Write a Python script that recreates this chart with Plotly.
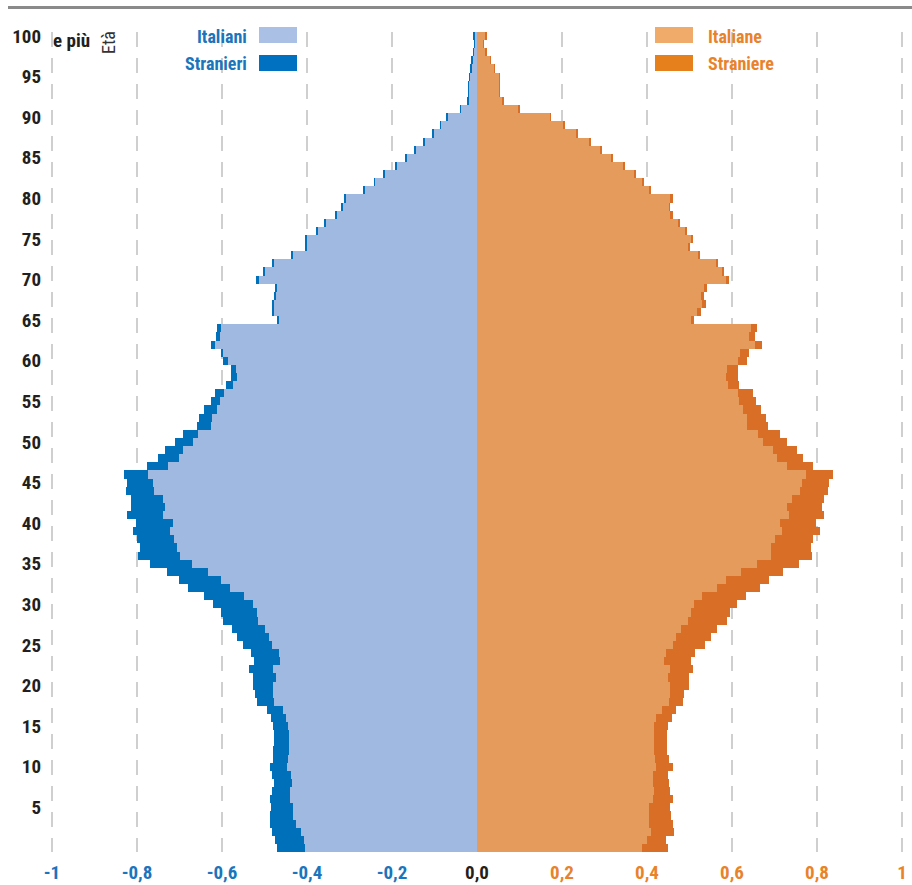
import plotly.graph_objects as go

# ---------------- data (percent of total population) ----------------
ages = list(range(0, 101))

italiani = [0.405, 0.407, 0.413, 0.427, 0.432, 0.432, 0.440, 0.440, 0.435, 0.438,
            0.446, 0.444, 0.442, 0.442, 0.443, 0.444, 0.449, 0.457, 0.478, 0.479,
            0.481, 0.473, 0.481, 0.464, 0.465, 0.483, 0.489, 0.499, 0.515, 0.517,
            0.528, 0.548, 0.581, 0.603, 0.634, 0.670, 0.700, 0.707, 0.713, 0.722,
            0.715, 0.738, 0.733, 0.740, 0.760, 0.763, 0.773, 0.728, 0.702, 0.691,
            0.669, 0.657, 0.627, 0.624, 0.612, 0.605, 0.595, 0.573, 0.564, 0.567,
            0.587, 0.597, 0.616, 0.605, 0.602, 0.467, 0.478, 0.478, 0.474, 0.471,
            0.514, 0.499, 0.478, 0.435, 0.402, 0.402, 0.376, 0.356, 0.331, 0.317,
            0.309, 0.265, 0.240, 0.217, 0.190, 0.167, 0.145, 0.124, 0.102, 0.085,
            0.069, 0.038, 0.021, 0.019, 0.019, 0.017, 0.014, 0.011, 0.008, 0.006,
            0.007]

stranieri = [0.065, 0.069, 0.070, 0.060, 0.055, 0.053, 0.047, 0.042, 0.043, 0.045,
             0.041, 0.035, 0.037, 0.036, 0.034, 0.035, 0.036, 0.038, 0.040, 0.043,
             0.045, 0.053, 0.055, 0.060, 0.067, 0.067, 0.075, 0.078, 0.082, 0.086,
             0.094, 0.094, 0.100, 0.099, 0.096, 0.099, 0.097, 0.086, 0.088, 0.087,
             0.088, 0.085, 0.082, 0.075, 0.066, 0.060, 0.058, 0.049, 0.049, 0.042,
             0.042, 0.035, 0.033, 0.029, 0.030, 0.022, 0.021, 0.018, 0.015, 0.011,
             0.011, 0.005, 0.011, 0.009, 0.009, 0.004, 0.005, 0.004, 0.003, 0.004,
             0.005, 0.004, 0.003, 0.003, 0.003, 0.003, 0.003, 0.003, 0.003, 0.003,
             0.003, 0.002, 0.002, 0.002, 0.002, 0.002, 0.002, 0.002, 0.002, 0.002,
             0.002, 0.002, 0.002, 0.001, 0.001, 0.001, 0.001, 0.001, 0.001, 0.001,
             0.002]

italiane = [0.389, 0.400, 0.410, 0.405, 0.405, 0.405, 0.415, 0.416, 0.415, 0.413,
            0.421, 0.419, 0.417, 0.417, 0.416, 0.416, 0.421, 0.435, 0.452, 0.453,
            0.454, 0.450, 0.454, 0.440, 0.445, 0.460, 0.468, 0.480, 0.496, 0.503,
            0.511, 0.530, 0.564, 0.586, 0.620, 0.658, 0.692, 0.692, 0.701, 0.717,
            0.713, 0.734, 0.730, 0.741, 0.760, 0.764, 0.774, 0.730, 0.707, 0.696,
            0.674, 0.662, 0.635, 0.635, 0.627, 0.617, 0.615, 0.590, 0.586, 0.589,
            0.615, 0.619, 0.654, 0.639, 0.644, 0.503, 0.517, 0.529, 0.526, 0.533,
            0.586, 0.578, 0.564, 0.522, 0.497, 0.505, 0.490, 0.473, 0.456, 0.452,
            0.456, 0.406, 0.389, 0.371, 0.344, 0.317, 0.290, 0.264, 0.234, 0.203,
            0.172, 0.098, 0.061, 0.053, 0.053, 0.053, 0.041, 0.031, 0.021, 0.015,
            0.020]

straniere = [0.061, 0.044, 0.054, 0.055, 0.051, 0.049, 0.045, 0.038, 0.037, 0.037,
             0.039, 0.033, 0.031, 0.031, 0.032, 0.033, 0.037, 0.033, 0.032, 0.034,
             0.044, 0.048, 0.055, 0.064, 0.068, 0.077, 0.083, 0.085, 0.092, 0.092,
             0.100, 0.103, 0.102, 0.102, 0.101, 0.100, 0.097, 0.095, 0.090, 0.089,
             0.085, 0.082, 0.081, 0.075, 0.065, 0.065, 0.063, 0.061, 0.059, 0.056,
             0.056, 0.051, 0.050, 0.044, 0.041, 0.039, 0.034, 0.027, 0.027, 0.026,
             0.021, 0.022, 0.016, 0.016, 0.014, 0.008, 0.009, 0.009, 0.007, 0.007,
             0.008, 0.004, 0.004, 0.003, 0.002, 0.004, 0.003, 0.003, 0.004, 0.002,
             0.004, 0.003, 0.002, 0.002, 0.002, 0.002, 0.002, 0.002, 0.002, 0.002,
             0.002, 0.001, 0.001, 0.001, 0.001, 0.001, 0.001, 0.001, 0.002, 0.001,
             0.003]

x_tick_vals = [-1, -0.8, -0.6, -0.4, -0.2, 0, 0.2, 0.4, 0.6, 0.8, 1]
x_tick_labels = ["-1", "-0,8", "-0,6", "-0,4", "-0,2", "0,0", "0,2", "0,4", "0,6", "0,8", "1"]
y_tick_vals = [5, 10, 15, 20, 25, 30, 35, 40, 45, 50, 55, 60, 65, 70, 75, 80, 85, 90, 95, 100]
y_tick_labels = ["5", "10", "15", "20", "25", "30", "35", "40", "45", "50", "55", "60",
                 "65", "70", "75", "80", "85", "90", "95", "100"]

# ---------------- style ----------------
W, H = 912, 885
ML, MR, MT, MB = 50, 8, 32, 33
PW, PH = W - ML - MR, H - MT - MB
PX_PER_UNIT = 425.0
XR = (PW / 2) / PX_PER_UNIT

FONT = ("Noto Sans Condensed, Roboto Condensed, Liberation Sans Narrow, "
        "DejaVu Sans Condensed, Roboto, sans-serif")
C_ITA_M = "#a0b9e0"
C_STR_M = "#0070bb"
C_ITA_F = "#e59b5c"
C_STR_F = "#d96f26"
C_TXT_M = "#1a75bc"
C_TXT_F = "#e8832a"
C_DARK = "#231f20"


def px(xp):
    return (xp - ML) / PW


def py(yp):
    return (H - MB - yp) / PH


fig = go.Figure()
common = dict(orientation="h", width=1, marker_line_width=0, hoverinfo="skip", showlegend=False)
fig.add_trace(go.Bar(y=ages, x=[-v for v in italiani], marker_color=C_ITA_M, name="Italiani", **common))
fig.add_trace(go.Bar(y=ages, x=[-v for v in stranieri], marker_color=C_STR_M, name="Stranieri", **common))
fig.add_trace(go.Bar(y=ages, x=italiane, marker_color=C_ITA_F, name="Italiane", **common))
fig.add_trace(go.Bar(y=ages, x=straniere, marker_color=C_STR_F, name="Straniere", **common))


def col(v):
    if v < 0:
        return C_TXT_M
    if v > 0:
        return C_TXT_F
    return C_DARK


x_ticktext = [f"<span style='color:{col(v)}'>{t}</span>" for v, t in zip(x_tick_vals, x_tick_labels)]

shapes = [
    # top rule
    dict(type="line", xref="paper", yref="paper", x0=px(8), x1=px(912), y0=py(7.5), y1=py(7.5),
         line=dict(color="#8a8a8a", width=3)),
    # legend swatches
    dict(type="rect", xref="paper", yref="paper", x0=px(259), x1=px(297), y0=py(43), y1=py(27),
         fillcolor="#aac1e5", line_width=0),
    dict(type="rect", xref="paper", yref="paper", x0=px(259), x1=px(297), y0=py(71), y1=py(55),
         fillcolor="#0070c0", line_width=0),
    dict(type="rect", xref="paper", yref="paper", x0=px(655), x1=px(693), y0=py(43), y1=py(27),
         fillcolor="#f0aa6a", line_width=0),
    dict(type="rect", xref="paper", yref="paper", x0=px(655), x1=px(693), y0=py(71), y1=py(55),
         fillcolor="#e5801d", line_width=0),
]

lab_font = dict(family=FONT, size=18, color=C_TXT_M, weight="bold")
annotations = [
    dict(text="Italiani", x=px(249), y=py(36), xanchor="right", yanchor="middle", font=lab_font),
    dict(text="Stranieri", x=px(249), y=py(63), xanchor="right", yanchor="middle", font=lab_font),
    dict(text="Italiane", x=px(706), y=py(36), xanchor="left", yanchor="middle",
         font=dict(lab_font, color=C_TXT_F)),
    dict(text="Straniere", x=px(706), y=py(63), xanchor="left", yanchor="middle",
         font=dict(lab_font, color=C_TXT_F)),
    dict(text="e più", x=px(51), y=py(40), xanchor="left", yanchor="middle",
         font=dict(family=FONT, size=19, color=C_DARK, weight="bold")),
    dict(text="Età", x=px(108), y=py(43), xanchor="center", yanchor="middle", textangle=-90,
         font=dict(family=FONT, size=18, color="#333333")),
]
for a in annotations:
    a.update(xref="paper", yref="paper", showarrow=False)

fig.update_layout(
    width=W, height=H,
    margin=dict(l=ML, r=MR, t=MT, b=MB, pad=0),
    paper_bgcolor="white", plot_bgcolor="white",
    barmode="relative", bargap=0,
    font=dict(family=FONT, color=C_DARK),
    shapes=shapes, annotations=annotations,
    xaxis=dict(range=[-XR, XR], tickvals=x_tick_vals, ticktext=x_ticktext,
               showgrid=True, gridcolor="#cfcfcf", gridwidth=1.5, griddash="15px,11px",
               zeroline=False, showline=False, ticks="", ticklabelstandoff=7, automargin=False,
               tickfont=dict(family=FONT, size=19, weight="bold"), fixedrange=True),
    yaxis=dict(range=[-0.5, 100.5], tickvals=y_tick_vals, ticktext=y_tick_labels,
               showgrid=False, zeroline=False, showline=False, ticks="", ticklabelstandoff=8,
               automargin=False,
               tickfont=dict(family=FONT, size=19, color=C_DARK, weight="bold"), fixedrange=True),
)

fig.write_html("out.html", config={"displayModeBar": False},
               post_script="document.body.style.margin='0px';")
